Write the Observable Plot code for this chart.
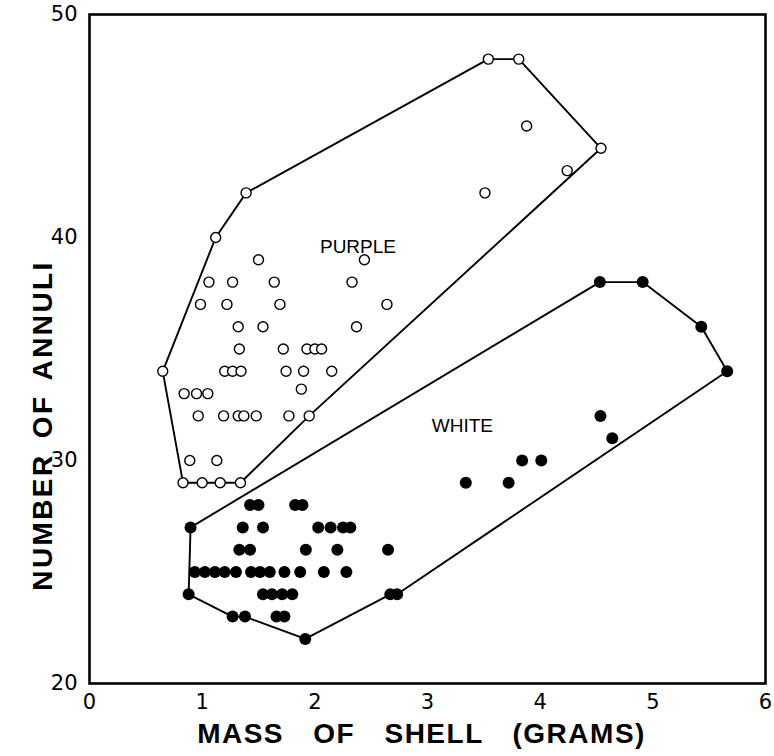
<!DOCTYPE html>
<html>
<head>
<meta charset="utf-8">
<script src="https://cdn.jsdelivr.net/npm/d3@7"></script>
<script src="https://cdn.jsdelivr.net/npm/@observablehq/plot@0.6"></script>
<style>
  html, body { margin: 0; padding: 0; background: #fff; }
</style>
</head>
<body>
<div id="chart"></div>
<script>
// ---- Data ----
// Purple shells (open circles): mass (g), number of annuli
const purpleX = [
  0.65, 0.83, 1.00, 1.16, 1.34, 1.95, 4.54, 3.81, 3.54, 1.39, 1.12,
  1.50, 2.44,
  1.06, 1.27, 1.64, 2.33,
  0.985, 1.22, 1.69, 2.64,
  1.32, 1.54, 2.37,
  1.33, 1.72, 1.93, 2.00, 2.06,
  1.20, 1.27, 1.345, 1.745, 1.90, 2.15,
  0.84, 0.95, 1.05, 1.88,
  0.965, 1.19, 1.32, 1.37, 1.48, 1.77,
  0.89, 1.13,
  3.88, 4.24, 3.51
];
const purpleY = [
  34, 29, 29, 29, 29, 32, 44, 48, 48, 42, 40,
  39, 39,
  38, 38, 38, 38,
  37, 37, 37, 37,
  36, 36, 36,
  35, 35, 35, 35, 35,
  34, 34, 34, 34, 34, 34,
  33, 33, 33, 33.2,
  32, 32, 32, 32, 32, 32,
  30, 30,
  45, 43, 42
];
// Purple envelope (polygon vertices, in drawing order)
const purpleHullX = [0.65, 0.83, 1.00, 1.16, 1.34, 1.95, 4.54, 3.81, 3.54, 1.39, 1.12, 0.65];
const purpleHullY = [34, 29, 29, 29, 29, 32, 44, 48, 48, 42, 40, 34];

// White shells (filled dots)
const whiteX = [
  0.897, 0.88, 1.27, 1.38, 1.915, 2.67, 2.73, 5.66, 5.43, 4.91, 4.53,
  1.425, 1.50, 1.825, 1.89,
  1.36, 1.54, 2.03, 2.14, 2.25, 2.315,
  1.33, 1.425, 1.92, 2.20, 2.65,
  0.935, 1.024, 1.113, 1.20, 1.30, 1.434, 1.514, 1.60, 1.73, 1.87, 2.08, 2.28,
  1.54, 1.62, 1.71, 1.80,
  1.66, 1.73,
  3.34, 3.72,
  3.84, 4.01,
  4.64,
  4.535
];
const whiteY = [
  27, 24, 23, 23, 22, 24, 24, 34, 36, 38, 38,
  28, 28, 28, 28,
  27, 27, 27, 27, 27, 27,
  26, 26, 26, 26, 26,
  25, 25, 25, 25, 25, 25, 25, 25, 25, 25, 25, 25,
  24, 24, 24, 24,
  23, 23,
  29, 29,
  30, 30,
  31,
  32
];
const whiteHullX = [0.897, 0.88, 1.27, 1.38, 1.915, 2.67, 2.73, 5.66, 5.43, 4.91, 4.53, 0.897];
const whiteHullY = [27, 24, 23, 23, 22, 24, 24, 34, 36, 38, 38, 27];

// Group labels
const groupNames = ["PURPLE", "WHITE"];
const groupLabelX = [2.383, 3.31];
const groupLabelY = [39.6, 31.56];

// Axes
const xTicks = [0, 1, 2, 3, 4, 5, 6];
const yTicks = [20, 30, 40, 50];
const xTitle = "MASS OF SHELL (GRAMS)";
const yTitle = "NUMBER OF ANNULI";

// ---- Tables built from the arrays ----
const purple = purpleX.map((x, i) => ({x, y: purpleY[i]}));
const white = whiteX.map((x, i) => ({x, y: whiteY[i]}));
const purpleHull = purpleHullX.map((x, i) => ({x, y: purpleHullY[i]}));
const whiteHull = whiteHullX.map((x, i) => ({x, y: whiteHullY[i]}));
const labels = groupNames.map((t, i) => ({t, x: groupLabelX[i], y: groupLabelY[i]}));

const tickFont = "'DejaVu Sans', sans-serif";
const titleFont = "'Liberation Sans', Arial, sans-serif";

const chart = Plot.plot({
  width: 774,
  height: 756,
  marginLeft: 89,
  marginRight: 9,
  marginTop: 14,
  marginBottom: 73,
  style: {fontFamily: tickFont, color: "#000", background: "#fff"},
  x: {domain: [0, 6]},
  y: {domain: [20, 50]},
  marks: [
    Plot.axisX({ticks: xTicks, tickSize: 0, tickPadding: 11, label: null, fontSize: 21, fontFamily: tickFont, tickFormat: d => String(d)}),
    Plot.axisY({ticks: yTicks, tickSize: 0, tickPadding: 12, label: null, fontSize: 21, fontFamily: tickFont, tickFormat: d => String(d)}),
    Plot.frame({stroke: "#000", strokeWidth: 2.6}),
    Plot.line(purpleHull, {x: "x", y: "y", stroke: "#000", strokeWidth: 1.9}),
    Plot.line(whiteHull, {x: "x", y: "y", stroke: "#000", strokeWidth: 1.9}),
    Plot.dot(purple, {x: "x", y: "y", r: 5, fill: "#fff", stroke: "#000", strokeWidth: 1.4}),
    Plot.dot(white, {x: "x", y: "y", r: 6, fill: "#000", stroke: "none"}),
    Plot.text(labels, {x: "x", y: "y", text: "t", fontSize: 19, fontFamily: titleFont, fill: "#000"}),
    Plot.text([xTitle], {text: d => d, frameAnchor: "bottom", textAnchor: "middle", dx: -6, dy: 59, fontSize: 28, fontWeight: "bold", fontFamily: titleFont, fill: "#000"}),
    Plot.text([yTitle], {text: d => d, frameAnchor: "left", textAnchor: "middle", rotate: -90, dx: -46.5, dy: 76.5, fontSize: 28, fontWeight: "bold", fontFamily: titleFont, fill: "#000"})
  ]
});

// letter / word spacing of the axis titles
chart.querySelectorAll("text").forEach(t => {
  if (t.textContent === xTitle) {
    t.style.letterSpacing = "1.5px";
    t.style.wordSpacing = "20px";
  } else if (t.textContent === yTitle) {
    t.style.letterSpacing = "2.4px";
    t.style.wordSpacing = "5px";
  }
});

document.getElementById("chart").appendChild(chart);
</script>
</body>
</html>
